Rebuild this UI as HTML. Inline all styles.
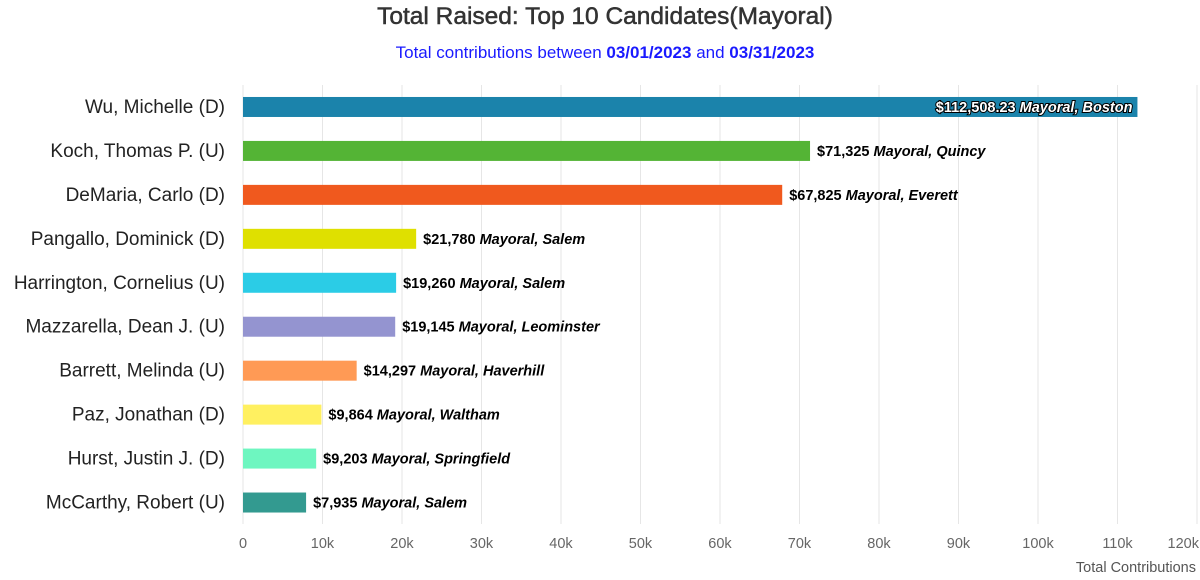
<!DOCTYPE html>
<html><head><meta charset="utf-8">
<style>
html,body{margin:0;padding:0;background:#fff;}
svg{display:block;font-family:"Liberation Sans","DejaVu Sans",sans-serif;}
</style></head>
<body>
<svg id="chart" width="1200" height="580">
  <text x="605" y="24" text-anchor="middle" font-size="24.5" fill="#333" stroke="#333" stroke-width="0.5">Total Raised: Top 10 Candidates(Mayoral)</text>
  <text x="605" y="58" text-anchor="middle" font-size="17" fill="#1a1aff">Total contributions between <tspan font-weight="bold">03/01/2023</tspan> and <tspan font-weight="bold">03/31/2023</tspan></text>
  <g id="grid"></g>
  <g id="bars"></g>
  <text x="1196" y="572" text-anchor="end" font-size="14.5" fill="#555">Total Contributions</text>
</svg>
<script>
const categories = ["Wu, Michelle (D)","Koch, Thomas P. (U)","DeMaria, Carlo (D)","Pangallo, Dominick (D)","Harrington, Cornelius (U)","Mazzarella, Dean J. (U)","Barrett, Melinda (U)","Paz, Jonathan (D)","Hurst, Justin J. (D)","McCarthy, Robert (U)"];
const values = [112508.23,71325,67825,21780,19260,19145,14297,9864,9203,7935];
const valueLabels = ["$112,508.23","$71,325","$67,825","$21,780","$19,260","$19,145","$14,297","$9,864","$9,203","$7,935"];
const cities = ["Boston","Quincy","Everett","Salem","Salem","Leominster","Haverhill","Waltham","Springfield","Salem"];
const colors = ["#1b83ab","#54b435","#f0591e","#dfe000","#2bcce6","#9494d0","#ff9a55","#fff060","#6ef6c0","#339a90"];
const ticks = [0,10000,20000,30000,40000,50000,60000,70000,80000,90000,100000,110000,120000];
const tickLabels = ["0","10k","20k","30k","40k","50k","60k","70k","80k","90k","100k","110k","120k"];

const NS="http://www.w3.org/2000/svg";
const x0=243,x1=1197,maxV=120000,top0=85,rowH=43.95,barH=20;
const xs=v=>x0+(v/maxV)*(x1-x0);
const yc=i=>top0+rowH*(i+0.5);
function mk(tag,attrs,parent){const e=document.createElementNS(NS,tag);for(const k in attrs)e.setAttribute(k,attrs[k]);parent.appendChild(e);return e;}
const grid=document.getElementById('grid'),bars=document.getElementById('bars');
ticks.forEach((t,i)=>{
  const l=mk('line',{x1:xs(t),x2:xs(t),y1:top0,y2:524,stroke:'#e6e6e6','stroke-width':1},grid);
  
  
  const last=i===ticks.length-1;
  const tx=mk('text',{x:last?1199:xs(t),y:548,'text-anchor':last?'end':'middle','font-size':14.5,fill:'#666'},grid);
  tx.textContent=tickLabels[i];
  
  
});
categories.forEach((c,i)=>{
  const y=yc(i);
  const lab=mk('text',{x:225,y:y+6,'text-anchor':'end','font-size':19,fill:'#222'},bars);
  lab.textContent=c;
  
  
  const r=mk('rect',{x:x0,y:y-barH/2,width:xs(values[i])-x0,height:barH,fill:colors[i]},bars);
  
  
  const inside=i===0;
  const t=mk('text',{'font-size':14.5,'font-weight':'bold'},bars);
  if(inside){t.setAttribute('x',xs(values[i])-5);t.setAttribute('text-anchor','end');t.setAttribute('fill','#fff');t.setAttribute('stroke','#000');t.setAttribute('stroke-width','2');t.setAttribute('paint-order','stroke');}
  else{t.setAttribute('x',xs(values[i])+7);t.setAttribute('fill','#000');}
  t.setAttribute('y',y+5);
  
  
  const s1=mk('tspan',{},t);s1.textContent=valueLabels[i]+' ';
  const s2=mk('tspan',{'font-style':'italic'},t);s2.textContent='Mayoral, '+cities[i];
});
</script>
</body></html>
